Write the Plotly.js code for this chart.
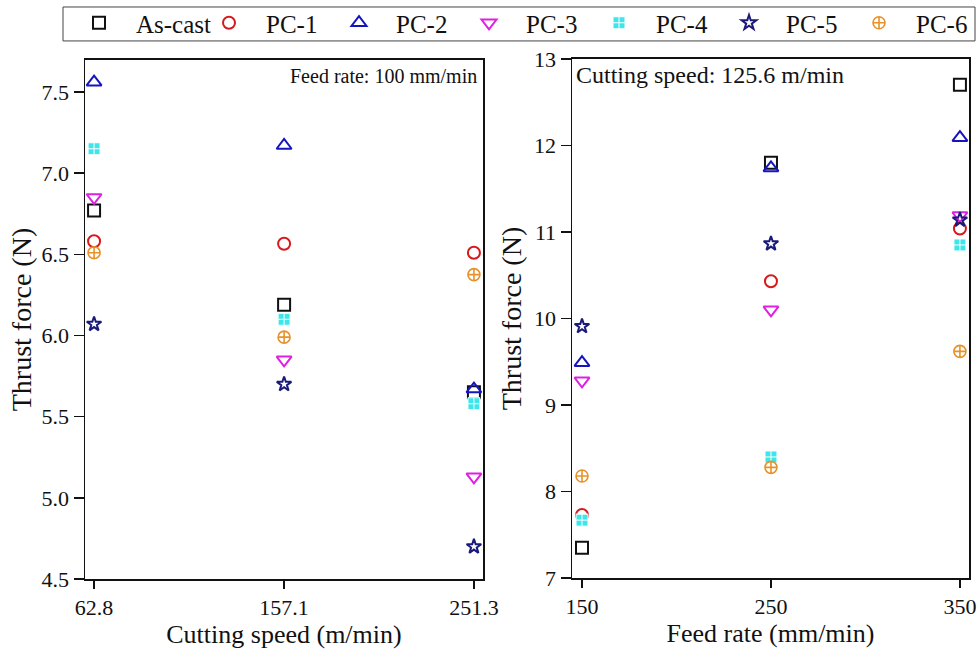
<!DOCTYPE html>
<html>
<head>
<meta charset="utf-8">
<script src="https://cdn.plot.ly/plotly-3.0.1.min.js"></script>
<style>html,body{margin:0;padding:0;background:#fff;}#chart{width:978px;height:649px;}</style>
</head>
<body>
<div id="chart"></div>
<script>
// Series names
const seriesNames = ["As-cast", "PC-1", "PC-2", "PC-3", "PC-4", "PC-5", "PC-6"];

// Left panel: cutting speed (m/min), feed rate 100 mm/min
const cuttingSpeed = [62.8, 157.1, 251.3];
const speedTickLabels = ["62.8", "157.1", "251.3"];
const thrustAsCastSpeed = [6.77, 6.19, 5.65];
const thrustPC1Speed   = [6.58, 6.565, 6.51];
const thrustPC2Speed   = [7.56, 7.17, 5.67];
const thrustPC3Speed   = [6.85, 5.85, 5.13];
const thrustPC4Speed   = [7.15, 6.10, 5.58];
const thrustPC5Speed   = [6.07, 5.70, 4.70];
const thrustPC6Speed   = [6.51, 5.99, 6.375];

// Right panel: feed rate (mm/min), cutting speed 125.6 m/min
const feedRate = [150, 250, 350];
const feedTickLabels = ["150", "250", "350"];
const thrustAsCastFeed = [7.35, 11.80, 12.70];
const thrustPC1Feed   = [7.73, 10.43, 11.04];
const thrustPC2Feed   = [9.49, 11.74, 12.09];
const thrustPC3Feed   = [9.28, 10.10, 11.19];
const thrustPC4Feed   = [7.67, 8.40, 10.85];
const thrustPC5Feed   = [9.91, 10.865, 11.14];
const thrustPC6Feed   = [8.18, 8.28, 9.62];

const speedSeries = [thrustAsCastSpeed, thrustPC1Speed, thrustPC2Speed, thrustPC3Speed, thrustPC4Speed, thrustPC5Speed, thrustPC6Speed];
const feedSeries = [thrustAsCastFeed, thrustPC1Feed, thrustPC2Feed, thrustPC3Feed, thrustPC4Feed, thrustPC5Feed, thrustPC6Feed];

const styles = [
  {symbol: "square-open", color: "#111111", lineColor: "#111111", size: 12, lw: 2},
  {symbol: "circle-open", color: "#D7191C", lineColor: "#D7191C", size: 12, lw: 2},
  {symbol: "triangle-up-open", color: "#1414C0", lineColor: "#1414C0", size: 13, lw: 2},
  {symbol: "triangle-down-open", color: "#E020E0", lineColor: "#E020E0", size: 13, lw: 2},
  {symbol: "square-cross", color: "#3EE6EC", lineColor: "#ffffff", size: 12, lw: 1},
  {symbol: "star-open", color: "#1A1A7A", lineColor: "#1A1A7A", size: 11, lw: 2},
  {symbol: "circle-cross-open", color: "#E8922A", lineColor: "#E8922A", size: 12, lw: 1.6}
];

const traces = [];
seriesNames.forEach((name, i) => {
  const st = styles[i];
  const marker = {symbol: st.symbol, size: st.size, color: st.color, line: {color: st.lineColor, width: st.lw}};
  traces.push({x: cuttingSpeed, y: speedSeries[i], name: name, type: "scatter", mode: "markers",
    xaxis: "x", yaxis: "y", marker: marker, legendgroup: name, showlegend: true});
  traces.push({x: feedRate, y: feedSeries[i], name: name, type: "scatter", mode: "markers",
    xaxis: "x2", yaxis: "y2", marker: marker, legendgroup: name, showlegend: false});
});

const FAM = "'Liberation Serif', 'Times New Roman', serif";
const axisCommon = {
  showline: true, linecolor: "#111", linewidth: 1.5, mirror: true,
  ticks: "outside", tickcolor: "#111", tickwidth: 1.5,
  showgrid: false, zeroline: false,
  tickfont: {family: FAM, size: 22, color: "#111"}
};

const W = 978, H = 649;
const layout = {
  width: W, height: H,
  margin: {l: 0, r: 0, t: 0, b: 0},
  paper_bgcolor: "#fff", plot_bgcolor: "#fff",
  font: {family: FAM, color: "#111"},
  showlegend: true,
  legend: {
    orientation: "h", x: 62 / W, y: 1 - 22 / H, xanchor: "left", yanchor: "middle",
    borderwidth: 0, bgcolor: "rgba(0,0,0,0)",
    font: {family: FAM, size: 25, color: "#111"},
    itemwidth: 64, entrywidth: 51, entrywidthmode: "pixels", itemsizing: "trace"
  },
  shapes: [
    {type: "rect", xref: "paper", yref: "paper", x0: 63 / W, x1: 975 / W, y0: 1 - 40 / H, y1: 1 - 6 / H,
     line: {color: "#444", width: 1}, fillcolor: "rgba(0,0,0,0)", layer: "below"}
  ],
  xaxis: Object.assign({}, axisCommon, {
    domain: [85 / W, 483 / W], range: [58.3, 255.8],
    tickmode: "array", tickvals: cuttingSpeed, ticktext: speedTickLabels, ticklen: 8,
    title: {text: "Cutting speed (m/min)", font: {family: FAM, size: 26, color: "#111"}, standoff: 4},
    anchor: "y"
  }),
  yaxis: Object.assign({}, axisCommon, {
    domain: [1 - 579 / H, 1 - 59 / H], range: [4.5, 7.697],
    tickmode: "linear", tick0: 4.5, dtick: 0.5, tickformat: ".1f", ticklen: 10,
    title: {text: "Thrust force (N)", font: {family: FAM, size: 28, color: "#111"}, standoff: 2},
    anchor: "x"
  }),
  xaxis2: Object.assign({}, axisCommon, {
    domain: [572 / W, 969 / W], range: [144.7, 354.8],
    tickmode: "array", tickvals: feedRate, ticktext: feedTickLabels, ticklen: 8,
    title: {text: "Feed rate (mm/min)", font: {family: FAM, size: 26, color: "#111"}, standoff: 4},
    anchor: "y2"
  }),
  yaxis2: Object.assign({}, axisCommon, {
    domain: [1 - 578 / H, 1 - 58 / H], range: [7, 13],
    tickmode: "linear", tick0: 7, dtick: 1, ticklen: 10,
    title: {text: "Thrust force (N)", font: {family: FAM, size: 28, color: "#111"}, standoff: 4},
    anchor: "x2"
  }),
  annotations: [
    {text: "Feed rate: 100 mm/min", xref: "x domain", yref: "y domain", x: 0.99, y: 0.969,
     xanchor: "right", yanchor: "middle", showarrow: false, font: {family: FAM, size: 20, color: "#111"}},
    {text: "Cutting speed: 125.6 m/min", xref: "x2 domain", yref: "y2 domain", x: 0.005, y: 0.969,
     xanchor: "left", yanchor: "middle", showarrow: false, font: {family: FAM, size: 24, color: "#111"}}
  ]
};

Plotly.newPlot("chart", traces, layout, {displayModeBar: false, staticPlot: true});
</script>
</body>
</html>
